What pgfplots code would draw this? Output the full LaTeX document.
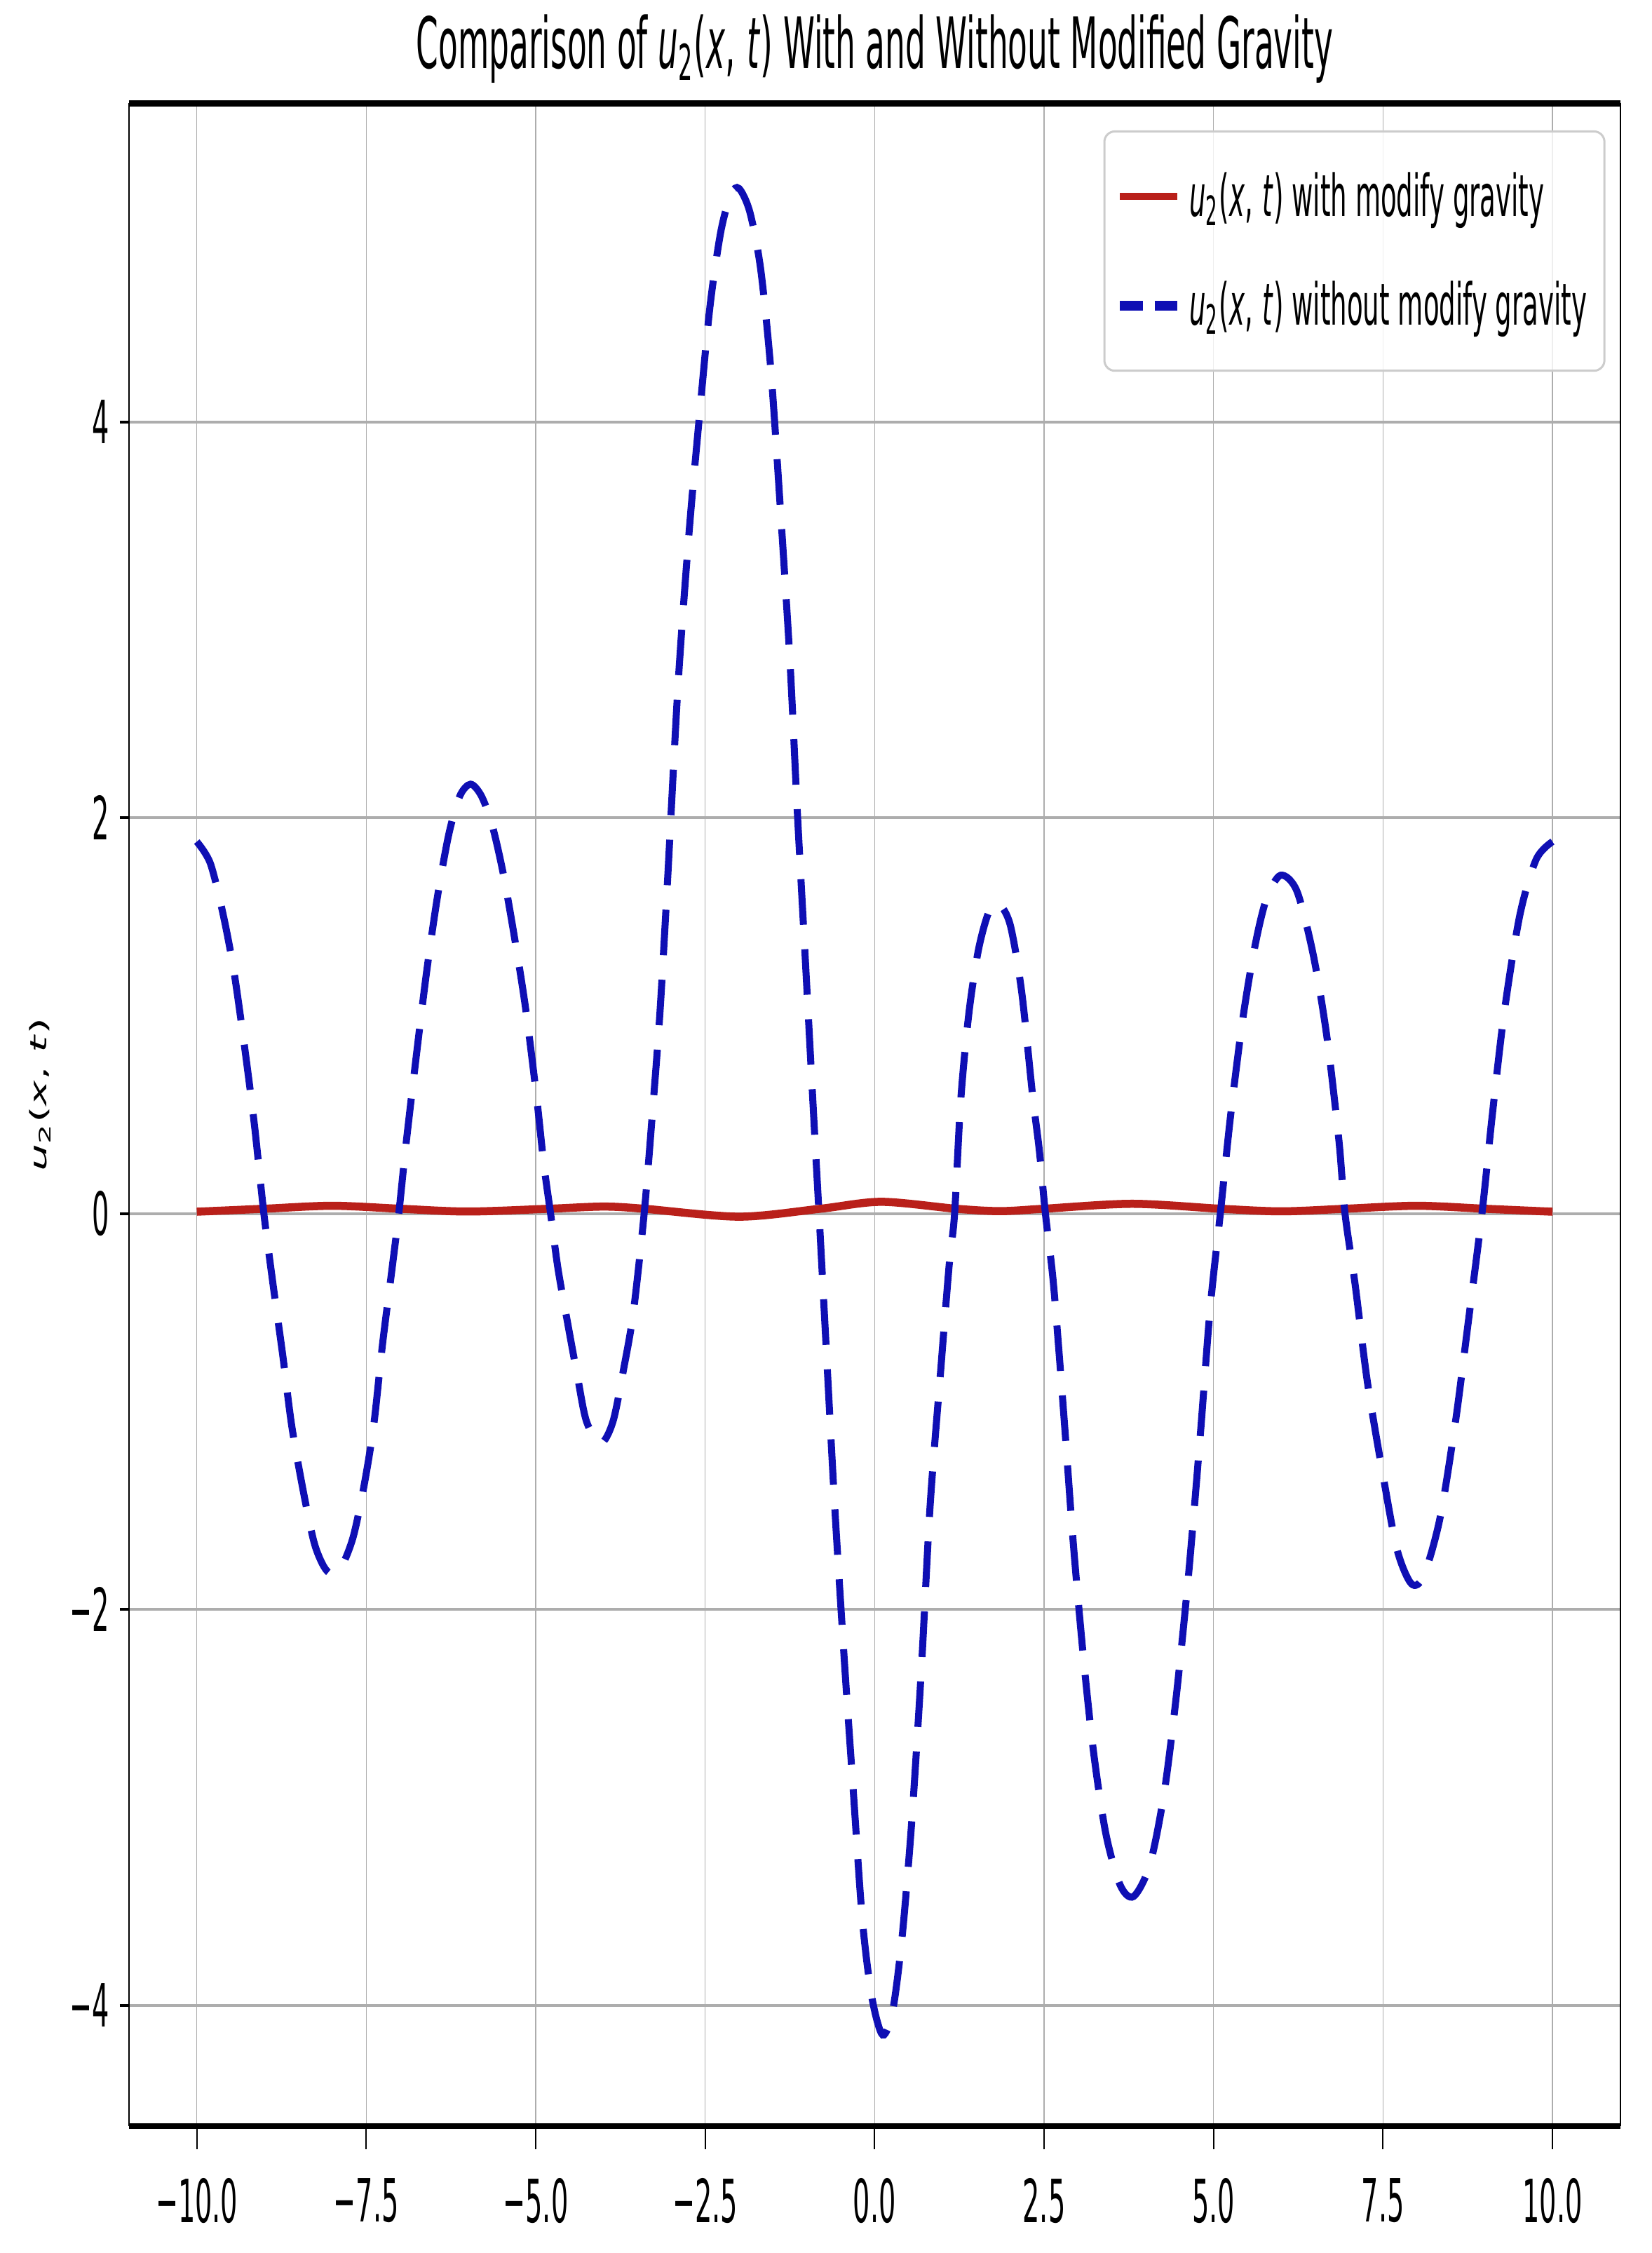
\documentclass[border=0pt]{standalone}
\usepackage{fontspec}
\usepackage{pgfplots}
\pgfplotsset{compat=1.18}
\newfontfamily\condfont[FakeStretch=0.45,ItalicFont={DejaVu Sans Oblique}]{DejaVu Sans}
\newfontfamily\widefont[FakeStretch=1.9,ItalicFont={DejaVu Sans Oblique}]{DejaVu Sans}
\definecolor{myblue}{RGB}{15,15,180}
\definecolor{myred}{RGB}{185,32,26}
\pgfplotsset{
  redleg/.style={legend image code/.code={\draw[##1, line width=2pt] (0pt,0pt) -- (16.4pt,0pt);}},
  blueleg/.style={legend image code/.code={\draw[##1, line width=2.8pt, dash pattern=on 6.5pt off 3.4pt] (0pt,0pt) -- (16.4pt,0pt);}},
}

\pgfplotstableread{
x y
-10.00 1.88
-9.80 1.77
-9.61 1.51
-9.45 1.22
-9.29 0.83
-9.15 0.45
-9.01 0.00
-8.87 -0.37
-8.73 -0.72
-8.60 -1.07
-8.43 -1.40
-8.27 -1.66
-8.13 -1.78
-8.01 -1.82
-7.86 -1.78
-7.69 -1.63
-7.53 -1.37
-7.39 -1.07
-7.26 -0.66
-7.12 -0.28
-7.02 0.00
-6.91 0.36
-6.75 0.83
-6.61 1.22
-6.45 1.60
-6.28 1.92
-6.12 2.11
-5.96 2.17
-5.80 2.11
-5.64 1.96
-5.48 1.72
-5.31 1.39
-5.15 1.04
-4.99 0.60
-4.88 0.25
-4.78 0.00
-4.67 -0.28
-4.53 -0.55
-4.39 -0.81
-4.25 -1.05
-4.04 -1.16
-3.86 -1.05
-3.70 -0.78
-3.56 -0.50
-3.40 0.00
-3.28 0.50
-3.17 1.00
-3.06 1.65
-2.90 2.67
-2.74 3.43
-2.59 4.01
-2.43 4.58
-2.27 4.96
-2.12 5.15
-2.00 5.18
-1.84 5.06
-1.68 4.77
-1.53 4.26
-1.39 3.56
-1.25 2.80
-1.14 2.03
-1.02 1.27
-0.90 0.50
-0.82 0.00
-0.72 -0.64
-0.59 -1.47
-0.45 -2.24
-0.31 -2.94
-0.18 -3.57
-0.04 -3.96
0.12 -4.15
0.27 -4.02
0.41 -3.64
0.55 -3.06
0.69 -2.30
0.82 -1.47
0.98 -0.77
1.10 -0.26
1.18 0.00
1.27 0.57
1.39 1.01
1.53 1.33
1.68 1.52
1.82 1.57
2.00 1.46
2.17 1.12
2.33 0.60
2.43 0.32
2.52 0.00
2.64 -0.36
2.79 -1.01
2.93 -1.66
3.08 -2.24
3.23 -2.72
3.41 -3.13
3.62 -3.39
3.82 -3.45
4.06 -3.29
4.27 -2.93
4.45 -2.44
4.63 -1.83
4.80 -1.14
4.95 -0.48
5.10 0.00
5.25 0.49
5.43 0.98
5.61 1.35
5.78 1.59
5.99 1.71
6.23 1.63
6.47 1.31
6.67 0.90
6.85 0.37
6.94 0.00
7.09 -0.36
7.27 -0.85
7.51 -1.34
7.71 -1.70
7.92 -1.87
8.10 -1.83
8.34 -1.54
8.57 -1.05
8.75 -0.57
8.96 0.00
9.11 0.49
9.29 1.02
9.52 1.51
9.76 1.79
10.00 1.88
}\without

\pgfplotstableread{
x y
-10.0 0.010
-9.0 0.025
-8.0 0.040
-7.0 0.025
-6.0 0.011
-4.8 0.025
-4.0 0.036
-3.4 0.025
-2.0 -0.015
-0.8 0.025
0.1 0.060
1.2 0.025
1.85 0.013
2.5 0.025
3.8 0.050
5.1 0.025
6.0 0.012
6.95 0.025
8.0 0.040
9.0 0.025
10.0 0.010
}\withmg

\begin{document}
\begin{tikzpicture}
\begin{axis}[
  scale only axis,
  width=425.4pt, height=577pt,
  xmin=-11, xmax=11, ymin=-4.61, ymax=5.61,
  xtick={-10,-7.5,-5,-2.5,0,2.5,5,7.5,10},
  xticklabels={−10.0,−7.5,−5.0,−2.5,0.0,2.5,5.0,7.5,10.0},
  ytick={-4,-2,0,2,4},
  yticklabels={−4,−2,0,2,4},
  xtick pos=bottom, ytick pos=left,
  grid=major,
  major x grid style={black!32, line width=0.3pt},
  major y grid style={black!32, line width=0.8pt},
  tick align=outside,
  separate axis lines,
  x axis line style={line width=1.7pt},
  y axis line style={line width=0.45pt},
  xtick style={black, line width=0.4pt, /pgfplots/major tick length=6.6pt},
  ytick style={black, line width=0.8pt, /pgfplots/major tick length=2.6pt},
  xticklabel style={font=\condfont\fontsize{17}{20}\selectfont, inner sep=0pt, anchor=north, yshift=-10.4pt},
  yticklabel style={font=\condfont\fontsize{17}{20}\selectfont, inner sep=0pt, anchor=east, xshift=-1.2pt},
  title={Comparison of \textit{u}\textsubscript{2}(\textit{x},\,\textit{t}) With and Without Modified Gravity},
  title style={font=\condfont\fontsize{20.2}{24}\selectfont, at={(axis description cs:0.5,1)}, anchor=base, yshift=4pt},
  ylabel={\textit{u}\textsubscript{2}(\textit{x}, \textit{t})},
  ylabel style={font=\widefont\fontsize{6.5}{8}\selectfont, at={(axis description cs:-0.0597,0.51)}, anchor=center},
  legend cell align=left,
  legend style={font=\condfont\fontsize{16.5}{19}\selectfont,
    at={(axis description cs:1,1)}, anchor=north east, xshift=-4.2pt, yshift=-7.7pt,
    draw=black!20, line width=0.6pt, rounded corners=3pt, fill=white, fill opacity=0.8, text opacity=1,
    inner xsep=3pt, inner ysep=9.6pt, row sep=13pt},
  legend image code/.code={\draw[#1] (0pt,0pt) -- (16.4pt,0pt);},
]
\addplot[color=myred, line width=2.3pt, smooth, redleg] table[x=x,y=y] {\withmg};
\addlegendentry{\textit{u}\textsubscript{2}(\textit{x},\,\textit{t}) with modify gravity}
\addplot[color=myblue, line width=2pt, dash pattern=on 13pt off 7pt, smooth, blueleg] table[x=x,y=y] {\without};
\addlegendentry{\textit{u}\textsubscript{2}(\textit{x},\,\textit{t}) without modify gravity}
\end{axis}
\pgfresetboundingbox
\path ([xshift=-36.8pt,yshift=-36.2pt]current axis.south west) rectangle ([xshift=9pt,yshift=29.5pt]current axis.north east);
\end{tikzpicture}
\end{document}
